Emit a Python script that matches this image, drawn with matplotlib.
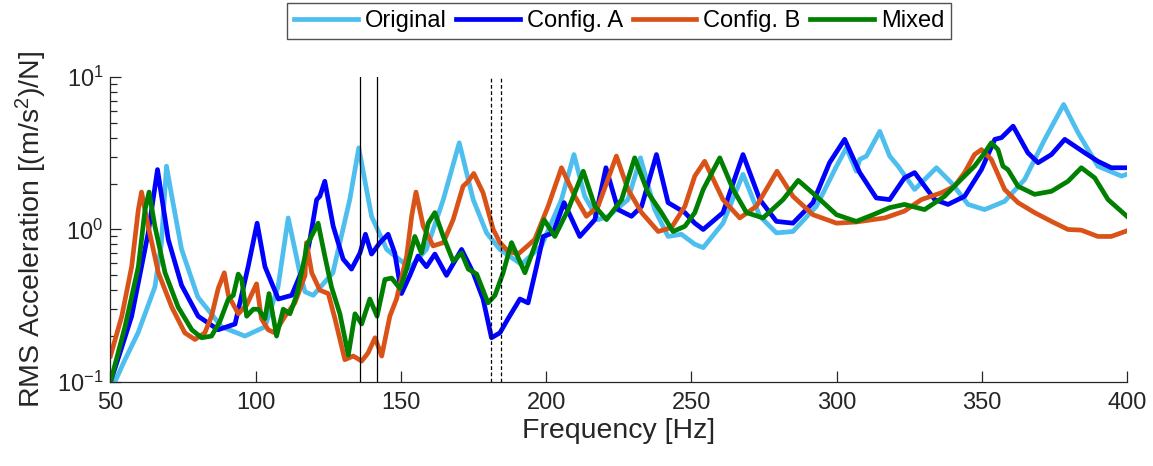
import numpy as np
import matplotlib
matplotlib.use("Agg")
import matplotlib.pyplot as plt
from matplotlib.ticker import LogLocator, NullFormatter

plt.rcParams['font.family'] = ['Liberation Sans', 'DejaVu Sans']
plt.rcParams['mathtext.default'] = 'regular'

# ---- data (frequency in Hz, RMS accel in (m/s^2)/N) ----
orig_f = [51.5, 55, 59.5, 65.3, 67.5, 69.3, 71, 74.5, 80.1, 88.3, 96.3, 103.2, 107.7, 111.2, 115.2, 117,
          119.8, 126.6, 132.4, 135.5, 139.9, 145.1, 153.1, 158.8, 164.6, 170.1, 174.9, 179.5, 184.1,
          191.5, 198.4, 205.3, 209.6, 213.3, 217.9, 221.4, 228.2, 232.5, 237.4, 242, 246.6, 251.2,
          254.1, 260.9, 267.8, 273.6, 279.3, 285, 293.1, 300, 303.4, 306.8, 308, 310.3, 314.9, 318.3,
          321.2, 326.9, 334.4, 339.6, 345.3, 351, 357.9, 364.8, 371.7, 378.2, 383.2, 390, 398.1, 400]
orig_v = [0.1, 0.14, 0.21, 0.42, 0.8, 2.6, 1.7, 0.74, 0.36, 0.23, 0.2, 0.23, 0.42, 1.19, 0.52, 0.39,
          0.37, 0.52, 1.57, 3.43, 1.22, 0.74, 0.56, 0.74, 1.57, 3.7, 1.57, 0.95, 0.74,
          0.59, 0.78, 1.57, 3.1, 1.65, 1.16, 1.22, 1.57, 2.95, 1.35, 0.9, 0.93, 0.8,
          0.76, 1.1, 2.3, 1.22, 0.95, 0.97, 1.42, 2.6, 3.43, 2.41, 2.88, 3.03, 4.4, 3.03,
          2.6, 1.83, 2.54, 2.02, 1.46, 1.35, 1.53, 2.13, 3.9, 6.6, 4.3, 2.6, 2.24, 2.3]

cfga_f = [50, 53.5, 57.3, 63, 66.2, 69.9, 74.5, 80.2, 87.1, 92.9, 97.4, 100.5, 103.2, 107.8, 112.4, 117,
          118.7, 121, 122.1, 123.8, 126.7, 130.1, 133, 135.9, 137.8, 139.9, 142.8, 145.6, 147.9, 150.2,
          153.1, 155.9, 158.8, 161.7, 165.7, 170.9, 174.9, 178.3, 181.2, 184.1, 186.9, 191, 193.8,
          196.7, 199, 202.4, 206.2, 211.6, 216.8, 220.6, 224.8, 229.4, 232.9, 238, 242, 247.8, 251.2,
          254.1, 260.9, 267.8, 273.6, 279.3, 285, 291.9, 297.6, 302.8, 308, 313.7, 318.3,
          323.4, 326.9, 333.8, 338.4, 344.1, 349.9, 354.5, 356.8, 360.8, 365.9, 369.4, 374, 378.6,
          385.5, 390, 394.6, 400]
cfga_v = [0.1, 0.16, 0.27, 0.95, 2.47, 0.86, 0.43, 0.27, 0.22, 0.24, 0.57, 1.1, 0.57, 0.35, 0.37, 0.6,
          0.86, 1.57, 1.65, 2.07, 1.05, 0.64, 0.55, 0.7, 0.93, 0.69, 0.82, 0.93, 0.7, 0.38,
          0.5, 0.67, 0.57, 0.69, 0.5, 0.74, 0.52, 0.35, 0.195, 0.21, 0.26, 0.35, 0.33,
          0.57, 0.9, 0.95, 1.5, 0.9, 1.16, 2.54, 1.35, 1.22, 1.42, 3.1, 1.5, 1.29, 1.1,
          1.0, 1.29, 3.1, 1.57, 1.13, 1.1, 1.5, 2.74, 3.9, 2.36, 1.61, 1.57,
          2.18, 2.36, 1.57, 1.46, 1.65, 2.47, 3.9, 4.0, 4.76, 3.18, 2.74, 3.1, 3.9,
          3.18, 2.8, 2.54, 2.54]

cfgb_f = [50, 53.9, 57.3, 59.6, 60.7, 63, 66.5, 71.1, 75.6, 79.1, 82.5, 84.8, 87.1, 89.2, 90.6, 94,
          96.9, 100.3, 102, 104.3, 106.6, 110.1, 113.5, 117, 117.5, 119.3, 122.1, 125, 127.3, 130.7,
          133.6, 136.5, 138.7, 141.1, 143.4, 146.2, 148.5, 152, 153.7, 155.2, 157.7, 161.1, 164.6,
          168, 171.4, 173.2, 175.1, 178.3, 181.8, 184.1, 186.9, 190.4, 196.1, 200.7, 205.3, 209.9,
          213.9, 217.9, 224.2, 228.2, 232.9, 238.6, 243.2, 247.8, 251.2, 254.6, 260.9, 266.7, 272.4,
          279.5, 285, 291.9, 300, 306.8, 316.6, 323.4, 329.2, 336.1, 340.6, 344.1, 347.5, 349.9,
          353.3, 357.9, 362.5, 368.2, 374, 379.7, 384.3, 390, 394.6, 400]
cfgb_v = [0.148, 0.27, 0.57, 1.35, 1.76, 1.05, 0.52, 0.31, 0.21, 0.19, 0.21, 0.27, 0.41, 0.52, 0.37, 0.28,
          0.32, 0.44, 0.26, 0.22, 0.21, 0.27, 0.33, 0.5, 0.82, 0.52, 0.4, 0.38, 0.26, 0.14,
          0.148, 0.137, 0.155, 0.195, 0.148, 0.27, 0.35, 0.67, 1.22, 1.76, 1.05, 0.78, 0.82,
          1.16, 1.92, 2.07, 2.33, 1.74, 1.0, 0.82, 0.72, 0.69, 0.86, 1.42, 2.54, 1.65,
          1.22, 1.42, 3.03, 1.83, 1.29, 0.97, 1.03, 1.42, 2.24, 2.8, 1.57, 1.19, 1.42,
          2.41, 1.65, 1.25, 1.1, 1.12, 1.19, 1.32, 1.57, 1.74, 1.92, 2.36, 3.1, 3.34,
          2.88, 1.83, 1.5, 1.29, 1.13, 1.0, 0.99, 0.9, 0.9, 0.98]

mix_f = [50, 55, 59.6, 61.9, 63.3, 65.3, 68.8, 73.3, 78, 81.4, 84.8, 87.7, 90.6, 92.3, 94, 95.2,
         96.9, 99.2, 100.9, 103.2, 104.6, 106, 107.2, 109.5, 111.8, 114.1, 117, 117.5, 119.8, 121.5,
         123.8, 126.1, 129, 131.9, 134.2, 136.5, 139.3, 141.8, 144.5, 146.8, 149.7, 152, 154.8,
         157.1, 159.4, 161.7, 164.6, 168, 170.9, 173.2, 176.1, 180, 182.4, 185.2, 188.1, 192.7,
         196.1, 199.3, 203, 207.6, 212.8, 216.8, 220.8, 226, 230.5, 235.1, 239.7, 243.7, 247.8,
         251.2, 254.1, 259.8, 264.4, 269, 274.7, 281.6, 286.8, 293.1, 300, 306.8, 312.6, 318.3,
         323.4, 330.3, 337.2, 342.9, 347.5, 351, 353.3, 355.6, 357.3, 359, 362.5, 368.2, 374,
         379.7, 384.3, 388.9, 393.5, 400]
mix_v = [0.1, 0.23, 0.57, 1.35, 1.76, 1.05, 0.52, 0.31, 0.22, 0.195, 0.2, 0.25, 0.35, 0.37, 0.51, 0.47,
         0.27, 0.3, 0.3, 0.26, 0.38, 0.27, 0.2, 0.3, 0.28, 0.37, 0.67, 0.78, 0.95, 1.1,
         0.67, 0.42, 0.28, 0.15, 0.28, 0.24, 0.35, 0.27, 0.47, 0.48, 0.41, 0.55, 0.9,
         0.7, 1.1, 1.29, 0.9, 0.62, 0.7, 0.55, 0.51, 0.33, 0.37, 0.52, 0.82, 0.52,
         0.78, 1.16, 0.9, 1.35, 2.41, 1.42, 1.16, 1.57, 2.95, 1.74, 1.29, 0.97, 1.05,
         1.29, 1.83, 2.95, 1.83, 1.29, 1.19, 1.57, 2.1, 1.65, 1.25, 1.13, 1.25, 1.39,
         1.46, 1.35, 1.65, 2.13, 2.6, 3.18, 3.7, 3.34, 2.6, 2.47, 1.92, 1.7, 1.78,
         2.07, 2.54, 2.18, 1.57, 1.22]

series_names = ['Original', 'Config. A', 'Config. B', 'Mixed']
series_colors = ['#4DBEEE', '#0000FF', '#D95319', '#008000']

solid_marks = [136.0, 141.9]   # vertical markers
dashed_marks = [180.9, 184.5]

fig = plt.figure(figsize=(11.53, 4.66), dpi=100)
ax = fig.add_axes([0.0958, 0.1803, 0.8816, 0.6545])

data = [(orig_f, orig_v), (cfga_f, cfga_v), (cfgb_f, cfgb_v), (mix_f, mix_v)]
for (f, v), name, col in zip(data, series_names, series_colors):
    ax.plot(f, v, color=col, lw=3.4, label=name, solid_joinstyle='round')

for x in solid_marks:
    ax.axvline(x, color='black', lw=0.9, zorder=5)
for x in dashed_marks:
    ax.axvline(x, color='black', lw=0.9, ls=(0, (3, 2)), zorder=5)

ax.set_yscale('log')
ax.set_xlim(50, 400)
ax.set_ylim(0.1, 10)
ax.set_xticks(np.arange(50, 401, 50))
ax.yaxis.set_major_locator(LogLocator(base=10))
ax.yaxis.set_minor_locator(LogLocator(base=10, subs=np.arange(2, 10)))
ax.yaxis.set_minor_formatter(NullFormatter())

for s in ['top', 'right']:
    ax.spines[s].set_visible(False)
for s in ['left', 'bottom']:
    ax.spines[s].set_color('#262626')
    ax.spines[s].set_linewidth(0.9)
ax.tick_params(axis='both', which='both', direction='in', colors='#262626', labelsize=17)
ax.tick_params(axis='x', pad=7)
ax.tick_params(axis='y', pad=5)
ax.tick_params(which='major', length=8, width=0.9)
ax.tick_params(which='minor', length=5, width=0.9)

ax.set_xlabel('Frequency [Hz]', fontsize=20.5, color='#262626', labelpad=3)
ax.set_ylabel('RMS Acceleration [(m/s$^2$)/N]', fontsize=20.5, color='#262626', labelpad=6)

fig.legend(loc='center', bbox_to_anchor=(0.537, 0.955), ncol=4, fontsize=17,
           frameon=True, fancybox=False, edgecolor='#262626', handlelength=2.7,
           handletextpad=0.3, columnspacing=0.4, borderpad=0.3, borderaxespad=0)

fig.savefig('out.png', dpi=100)
